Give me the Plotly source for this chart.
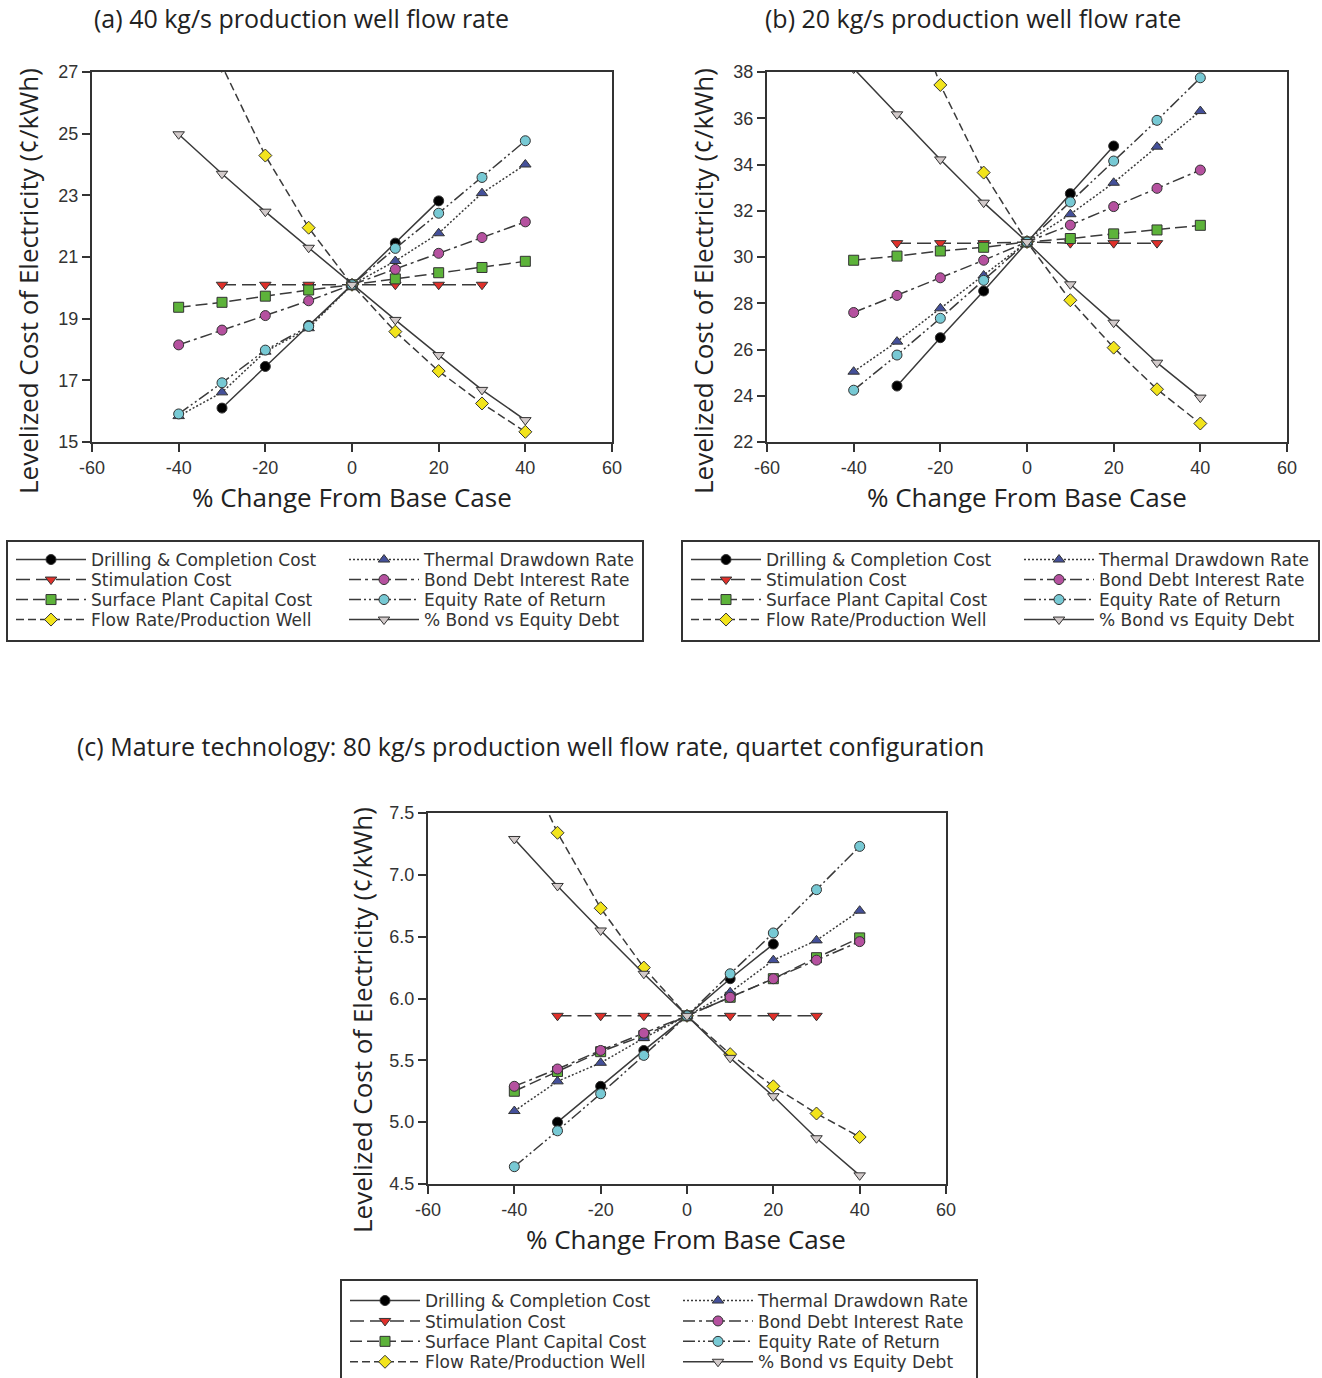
import plotly.graph_objects as go

W, H = 1322, 1378

# % change from base case
x_pct = [-40, -30, -20, -10, 0, 10, 20, 30, 40]
xtick_vals = [-60, -40, -20, 0, 20, 40, 60]
xtick_text = ['-60', '-40', '-20', '0', '20', '40', '60']

series_names = [
    'Drilling & Completion Cost',
    'Stimulation Cost',
    'Surface Plant Capital Cost',
    'Flow Rate/Production Well',
    'Thermal Drawdown Rate',
    'Bond Debt Interest Rate',
    'Equity Rate of Return',
    '% Bond vs Equity Debt',
]

# (a) 40 kg/s
drill_a = [None, 16.1, 17.45, 18.78, 20.1, 21.45, 22.82, None, None]
stim_a = [None, 20.1, 20.1, 20.1, 20.1, 20.1, 20.1, 20.1, None]
surf_a = [19.37, 19.53, 19.73, 19.93, 20.1, 20.29, 20.49, 20.66, 20.86]
flow_a = [31.0, 27.2, 24.29, 21.95, 20.1, 18.58, 17.3, 16.25, 15.33]
therm_a = [15.84, 16.61, 17.93, 18.69, 20.1, 20.87, 21.77, 23.07, 24.0]
bondi_a = [18.15, 18.63, 19.1, 19.58, 20.1, 20.6, 21.12, 21.63, 22.14]
equity_a = [15.91, 16.92, 17.98, 18.75, 20.1, 21.28, 22.42, 23.58, 24.77]
pbond_a = [24.98, 23.7, 22.47, 21.3, 20.1, 18.96, 17.82, 16.69, 15.71]

# (b) 20 kg/s
drill_b = [None, 24.42, 26.51, 28.53, 30.65, 32.74, 34.8, None, None]
stim_b = [None, 30.6, 30.6, 30.6, 30.65, 30.6, 30.6, 30.6, None]
surf_b = [29.86, 30.04, 30.26, 30.42, 30.65, 30.8, 31.0, 31.17, 31.37]
flow_b = [49.0, 42.5, 37.44, 33.65, 30.65, 28.13, 26.08, 24.28, 22.8]
therm_b = [25.04, 26.34, 27.78, 29.2, 30.65, 31.85, 33.21, 34.77, 36.31]
bondi_b = [27.6, 28.34, 29.1, 29.86, 30.65, 31.38, 32.18, 32.97, 33.76]
equity_b = [24.24, 25.76, 27.35, 28.99, 30.65, 32.38, 34.15, 35.91, 37.75]
pbond_b = [38.15, 36.17, 34.22, 32.35, 30.65, 28.82, 27.16, 25.43, 23.92]

# (c) mature technology, 80 kg/s
drill_c = [None, 5.0, 5.29, 5.58, 5.86, 6.16, 6.44, None, None]
stim_c = [None, 5.86, 5.86, 5.86, 5.86, 5.86, 5.86, 5.86, None]
surf_c = [5.25, 5.41, 5.57, 5.7, 5.86, 6.01, 6.16, 6.33, 6.49]
flow_c = [8.1, 7.34, 6.73, 6.25, 5.86, 5.55, 5.29, 5.07, 4.88]
therm_c = [5.09, 5.33, 5.48, 5.68, 5.86, 6.05, 6.31, 6.47, 6.71]
bondi_c = [5.29, 5.43, 5.58, 5.72, 5.86, 6.01, 6.16, 6.31, 6.46]
equity_c = [4.64, 4.93, 5.23, 5.54, 5.86, 6.2, 6.53, 6.88, 7.23]
pbond_c = [7.29, 6.91, 6.55, 6.2, 5.86, 5.52, 5.21, 4.87, 4.57]

# marker symbol, fill colour, line dash
styles = [
    ('circle', '#000000', 'solid'),
    ('triangle-down', '#e0302a', '14px,6px'),
    ('square', '#5db33a', '12px,5px'),
    ('diamond', '#f2e41c', '8px,4px'),
    ('triangle-up', '#44509a', '2px,2px'),
    ('circle', '#b5519f', '12px,4px,3px,4px'),
    ('circle', '#77c9d4', '12px,3px,2px,3px,2px,3px'),
    ('triangle-down', '#d2caca', 'solid'),
]

# one legend per entry so rows sit where they do in the original
# (left x of the two columns, y of first row) per panel
panels = [
    dict(data=[drill_a, stim_a, surf_a, flow_a, therm_a, bondi_a, equity_a, pbond_a],
         xa='x', ya='y', cols=(11, 344), row0=560, gap=20),
    dict(data=[drill_b, stim_b, surf_b, flow_b, therm_b, bondi_b, equity_b, pbond_b],
         xa='x2', ya='y2', cols=(686, 1019), row0=560, gap=20),
    dict(data=[drill_c, stim_c, surf_c, flow_c, therm_c, bondi_c, equity_c, pbond_c],
         xa='x3', ya='y3', cols=(345, 678), row0=1301, gap=20.4),
]


def fx(px):
    return px / W


def fy(py):
    return 1 - py / H


fig = go.Figure()
layout = dict(
    width=W, height=H, margin=dict(l=0, r=0, t=0, b=0, autoexpand=False),
    paper_bgcolor='white', plot_bgcolor='white', showlegend=True,
    font=dict(family='Open Sans', color='#333333'),
)

legend_style = dict(
    orientation='v', bgcolor='rgba(0,0,0,0)', borderwidth=0,
    font=dict(family='DejaVu Sans', size=17, color='#333333'),
    itemwidth=70, xanchor='left', yanchor='middle',
    itemclick=False, itemdoubleclick=False,
)

n_leg = 0
for p in panels:
    for i, (name, vals) in enumerate(zip(series_names, p['data'])):
        sym, col, dash = styles[i]
        n_leg += 1
        key = 'legend' if n_leg == 1 else 'legend' + str(n_leg)
        lx = p['cols'][0] if i < 4 else p['cols'][1]
        ly = p['row0'] + p['gap'] * (i % 4)
        layout[key] = dict(legend_style, x=fx(lx), y=fy(ly))
        fig.add_trace(go.Scatter(
            x=x_pct, y=vals, name=name, mode='lines+markers',
            xaxis=p['xa'], yaxis=p['ya'], legend=key, showlegend=True,
            line=dict(color='#3a3a3a', width=1.5, dash=dash),
            marker=dict(symbol=sym, size=10, color=col,
                        line=dict(color='#333333', width=1)),
        ))

axis_style = dict(
    showline=True, linewidth=2, linecolor='#333333', mirror=True,
    ticks='outside', ticklen=8, tickwidth=2, tickcolor='#333333',
    showgrid=False, zeroline=False,
    tickfont=dict(family='Liberation Sans, Arial', size=18, color='#333333'),
)

# plot areas in pixels (left, top, right, bottom)
boxes = [(92, 72, 612, 442), (767, 72, 1287, 442), (428, 813, 946, 1184)]
yranges = [(15, 27, 2, None), (22, 38, 2, None), (4.5, 7.5, 0.5, '.1f')]

for k, ((l, t, r, b), (y0, y1, dy, fmt)) in enumerate(zip(boxes, yranges)):
    suf = '' if k == 0 else str(k + 1)
    layout['xaxis' + suf] = dict(axis_style, domain=[fx(l), fx(r)], range=[-60, 60],
                                 tickvals=xtick_vals, ticktext=xtick_text,
                                 anchor='y' + suf)
    ya = dict(axis_style, domain=[fy(b), fy(t)], range=[y0, y1], dtick=dy,
              tick0=y0, anchor='x' + suf)
    if fmt:
        ya['tickformat'] = fmt
    layout['yaxis' + suf] = ya

fig.update_layout(**layout)

# legend frames
for (x0, y0, x1, y1) in [(7, 541, 643, 641), (682, 541, 1319, 641), (341, 1280, 977, 1390)]:
    fig.add_shape(type='rect', xref='paper', yref='paper',
                  x0=fx(x0), x1=fx(x1), y0=fy(y1), y1=fy(y0),
                  line=dict(color='#333333', width=2))

titles = [
    ('(a) 40 kg/s production well flow rate', 92, 18),
    ('(b) 20 kg/s production well flow rate', 763, 18),
    ('(c) Mature technology: 80 kg/s production well flow rate, quartet configuration', 75, 746),
]
for text, px, py in titles:
    fig.add_annotation(text=text, x=fx(px), y=fy(py), xref='paper', yref='paper',
                       xanchor='left', yanchor='middle', showarrow=False,
                       font=dict(family='Open Sans', size=25, color='#222222'))

for cx, cy in [(352, 497), (1027, 497), (686, 1239)]:
    fig.add_annotation(text='% Change From Base Case', x=fx(cx), y=fy(cy),
                       xref='paper', yref='paper', showarrow=False,
                       xanchor='center', yanchor='middle',
                       font=dict(family='Open Sans', size=26, color='#222222'))

for cx, cy in [(28, 281), (703, 281), (362, 1020)]:
    fig.add_annotation(text='Levelized Cost of Electricity (¢/kWh)', x=fx(cx), y=fy(cy),
                       xref='paper', yref='paper', showarrow=False, textangle=-90,
                       xanchor='center', yanchor='middle',
                       font=dict(family='Open Sans', size=26, color='#222222'))

# drop the page's default body margin so the figure sits at the window's corner
fig.write_html('out.html', config={'displayModeBar': False},
               post_script="document.body.style.margin='0';")
